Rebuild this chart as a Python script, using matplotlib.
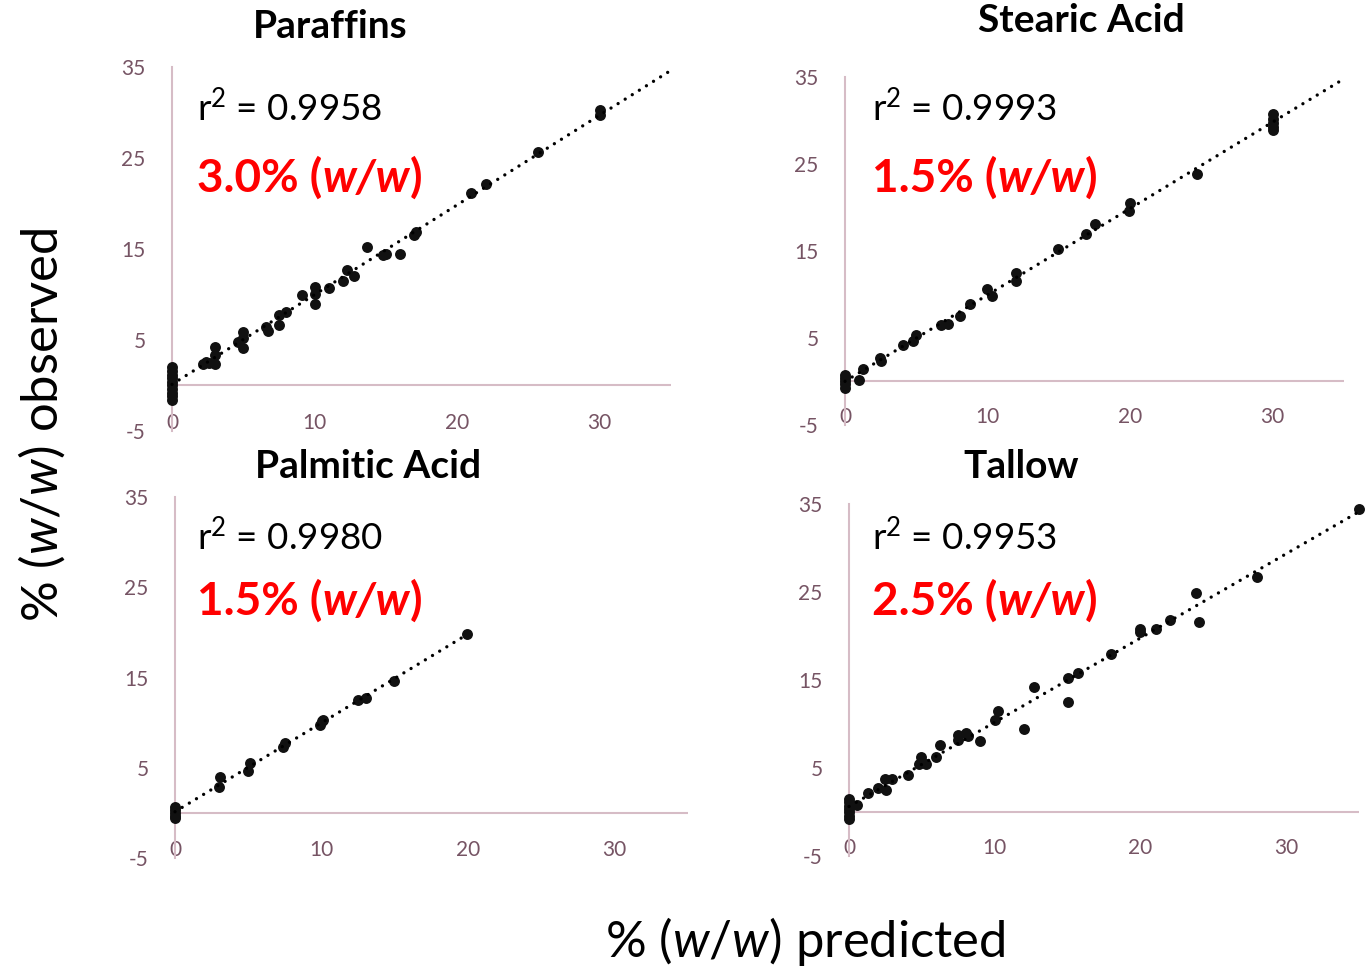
import numpy as np
import matplotlib
matplotlib.use("Agg")
import matplotlib.pyplot as plt
import matplotlib.patheffects as pe
from matplotlib import font_manager as fm

plt.rcParams['font.family'] = ['Lato', 'DejaVu Sans']
plt.rcParams['mathtext.fontset'] = 'custom'
plt.rcParams['mathtext.rm'] = 'Lato'
plt.rcParams['mathtext.it'] = 'Lato:italic'
plt.rcParams['axes.unicode_minus'] = False

W, H = 1372, 967
AXIS_COL = '#d6bcc6'
TICK_COL = '#765464'

titles = ["Paraffins", "Stearic Acid", "Palmitic Acid", "Tallow"]
r2_values = [0.9958, 0.9993, 0.9980, 0.9953]
errors = ["3.0%", "1.5%", "1.5%", "2.5%"]
trend_end = [35, 35, 20, 35]

x_ticks = [0, 10, 20, 30]
y_ticks = [-5, 5, 15, 25, 35]

paraffin_pred = [0, 0, 0, 0, 0, 0, 0, 0, 0, 0, 2.2, 2.4, 2.6, 3.0, 3.0, 3.0, 4.6, 5.0, 5.0, 5.0,
                 6.6, 6.7, 7.5, 7.5, 8.0, 9.1, 10.0, 10.0, 10.0, 11.0, 12.0, 12.3, 12.8, 13.7,
                 14.8, 15.0, 16.0, 17.0, 17.1, 21.0, 22.0, 25.7, 30.0, 30.0]
paraffin_obs = [2.0, 1.6, 1.2, 0.8, 0.4, 0.0, -0.4, -0.8, -1.2, -1.6, 2.4, 2.6, 2.5, 4.2, 3.3, 2.4,
                4.8, 5.9, 5.2, 4.1, 6.4, 6.0, 7.7, 6.6, 8.1, 9.9, 10.8, 10.1, 9.0, 10.7, 11.5,
                12.7, 12.0, 15.2, 14.3, 14.5, 14.5, 16.5, 16.9, 21.1, 22.1, 25.7, 30.3, 29.7]

stearic_pred = [0, 0, 0, 0, 0, 0.95, 1.26, 2.45, 2.5, 4.1, 4.8, 5.0, 6.7, 7.2, 8.1, 8.8, 9.95,
                10.3, 12.0, 12.0, 14.95, 16.9, 17.5, 19.9, 20.0, 24.7, 30, 30, 30, 30, 30]
stearic_obs = [0.8, 0.4, 0.0, -0.3, -0.7, 0.2, 1.45, 2.7, 2.4, 4.25, 4.7, 5.4, 6.55, 6.6, 7.5,
               8.9, 10.65, 9.8, 12.45, 11.5, 15.25, 16.9, 18.1, 19.65, 20.5, 23.9, 30.7, 30.2,
               29.7, 29.3, 28.9]

palmitic_pred = [0, 0, 0, 0, 0, 3.0, 3.1, 5.0, 5.1, 7.4, 7.5, 9.9, 10.0, 10.1, 12.5, 13.0,
                 14.95, 19.95]
palmitic_obs = [0.7, 0.3, 0.0, -0.3, -0.6, 2.9, 4.0, 4.6, 5.5, 7.35, 7.7, 9.7, 10.2, 10.3,
                12.5, 12.7, 14.6, 19.85]

tallow_pred = [0, 0, 0, 0, 0, 0, 0, 0.57, 1.27, 2.0, 2.5, 2.55, 2.97, 4.05, 4.83, 4.96, 5.3,
               6.0, 6.25, 7.47, 7.5, 8.06, 8.2, 9.0, 10.0, 10.2, 12.0, 12.7, 15.0, 15.0, 15.7,
               18.0, 20.0, 20.0, 21.05, 22.0, 23.8, 24.0, 28.0, 35.0]
tallow_obs = [1.5, 1.1, 0.7, 0.3, 0.0, -0.4, -0.8, 0.83, 2.2, 2.7, 3.75, 2.5, 3.7, 4.25, 5.4,
              6.3, 5.45, 6.25, 7.6, 8.8, 8.2, 9.0, 8.6, 8.1, 10.4, 11.5, 9.4, 14.2, 15.2, 12.5,
              15.85, 18.0, 20.8, 20.4, 20.8, 21.8, 24.9, 21.6, 26.7, 34.4]

preds = [paraffin_pred, stearic_pred, palmitic_pred, tallow_pred]
obs = [paraffin_obs, stearic_obs, palmitic_obs, tallow_obs]

# axes boxes in pixels: left, top, right, bottom
boxes = [(172, 67, 671, 431), (845, 77, 1344, 425), (175, 497, 688, 858), (849, 504, 1359, 856)]
title_pos = [(330, 27), (1081, 20), (368, 466), (1021, 466)]
text_left = [197, 872, 197, 872]
r2_y = [108, 108, 537, 537]
err_base = [192, 192, 615, 615]


def fx(px):
    return px / W


def fy(py):
    return 1 - py / H


def _w(f):
    w = f.weight
    if isinstance(w, str):
        return {'bold': 700, 'heavy': 800, 'black': 900}.get(w, 400)
    return w


# is there a real bold italic Lato? if not, fake the weight with a stroke
has_bi = any(f.name == 'Lato' and f.style == 'italic' and _w(f) >= 700 for f in fm.fontManager.ttflist)
bi_effect = [] if has_bi else [pe.withStroke(linewidth=2.0, foreground='#ff0000')]

fig = plt.figure(figsize=(W / 100, H / 100), dpi=100)
renderer = fig.canvas.get_renderer()

for i in range(4):
    l, t, r, b = boxes[i]
    ax = fig.add_axes([fx(l), fy(b), (r - l) / W, (b - t) / H])
    ax.set_xlim(0, 35)
    ax.set_ylim(-5, 35)
    for s in ['top', 'right', 'bottom']:
        ax.spines[s].set_visible(False)
    ax.spines['left'].set_color(AXIS_COL)
    ax.spines['left'].set_linewidth(1.5)
    ax.axhline(0, color=AXIS_COL, lw=1.5, zorder=1)
    ax.set_xticks(x_ticks)
    ax.set_yticks(y_ticks)
    ax.tick_params(axis='both', length=0, labelsize=15, labelcolor=TICK_COL)
    ax.tick_params(axis='x', pad=-13)
    ax.tick_params(axis='y', pad=19)

    x = np.array(preds[i])
    y = np.array(obs[i])
    ax.scatter(x, y, s=62, color='#111111', zorder=3, clip_on=False, linewidths=0)
    slope, icpt = np.polyfit(x, y, 1)
    xt = np.array([0, trend_end[i]])
    ax.plot(xt, slope * xt + icpt, color='black', lw=2.4, linestyle=(0, (0.01, 2.5)),
            dash_capstyle='round', zorder=4, clip_on=False)

    fig.text(fx(title_pos[i][0]), fy(title_pos[i][1]), titles[i], ha='center', va='center',
             fontsize=28, fontweight='bold')
    fig.text(fx(text_left[i]), fy(r2_y[i]), r"r$^{\mathrm{2}}$ = %.4f" % r2_values[i],
             ha='left', va='center', fontsize=26.5)

    # red error text, built from pieces so that w/w can be bold italic
    xpos = text_left[i]
    pieces = [(errors[i] + " (", 'normal', []), ("w/w", 'italic', bi_effect), (")", 'normal', [])]
    for txt, style, eff in pieces:
        t_ = fig.text(fx(xpos), fy(err_base[i]), txt, ha='left', va='baseline', fontsize=33,
                      fontweight='bold', fontstyle=style, color='#ff0000', path_effects=eff)
        xpos += t_.get_window_extent(renderer).width

fig.text(fx(805), fy(942), r"% ($\mathit{w/w}$) predicted", ha='center', va='center', fontsize=36.5)
fig.text(fx(42), fy(425), r"% ($\mathit{w/w}$) observed", ha='center', va='center', fontsize=36.5,
         rotation=90)

fig.savefig("out.png", dpi=100)
